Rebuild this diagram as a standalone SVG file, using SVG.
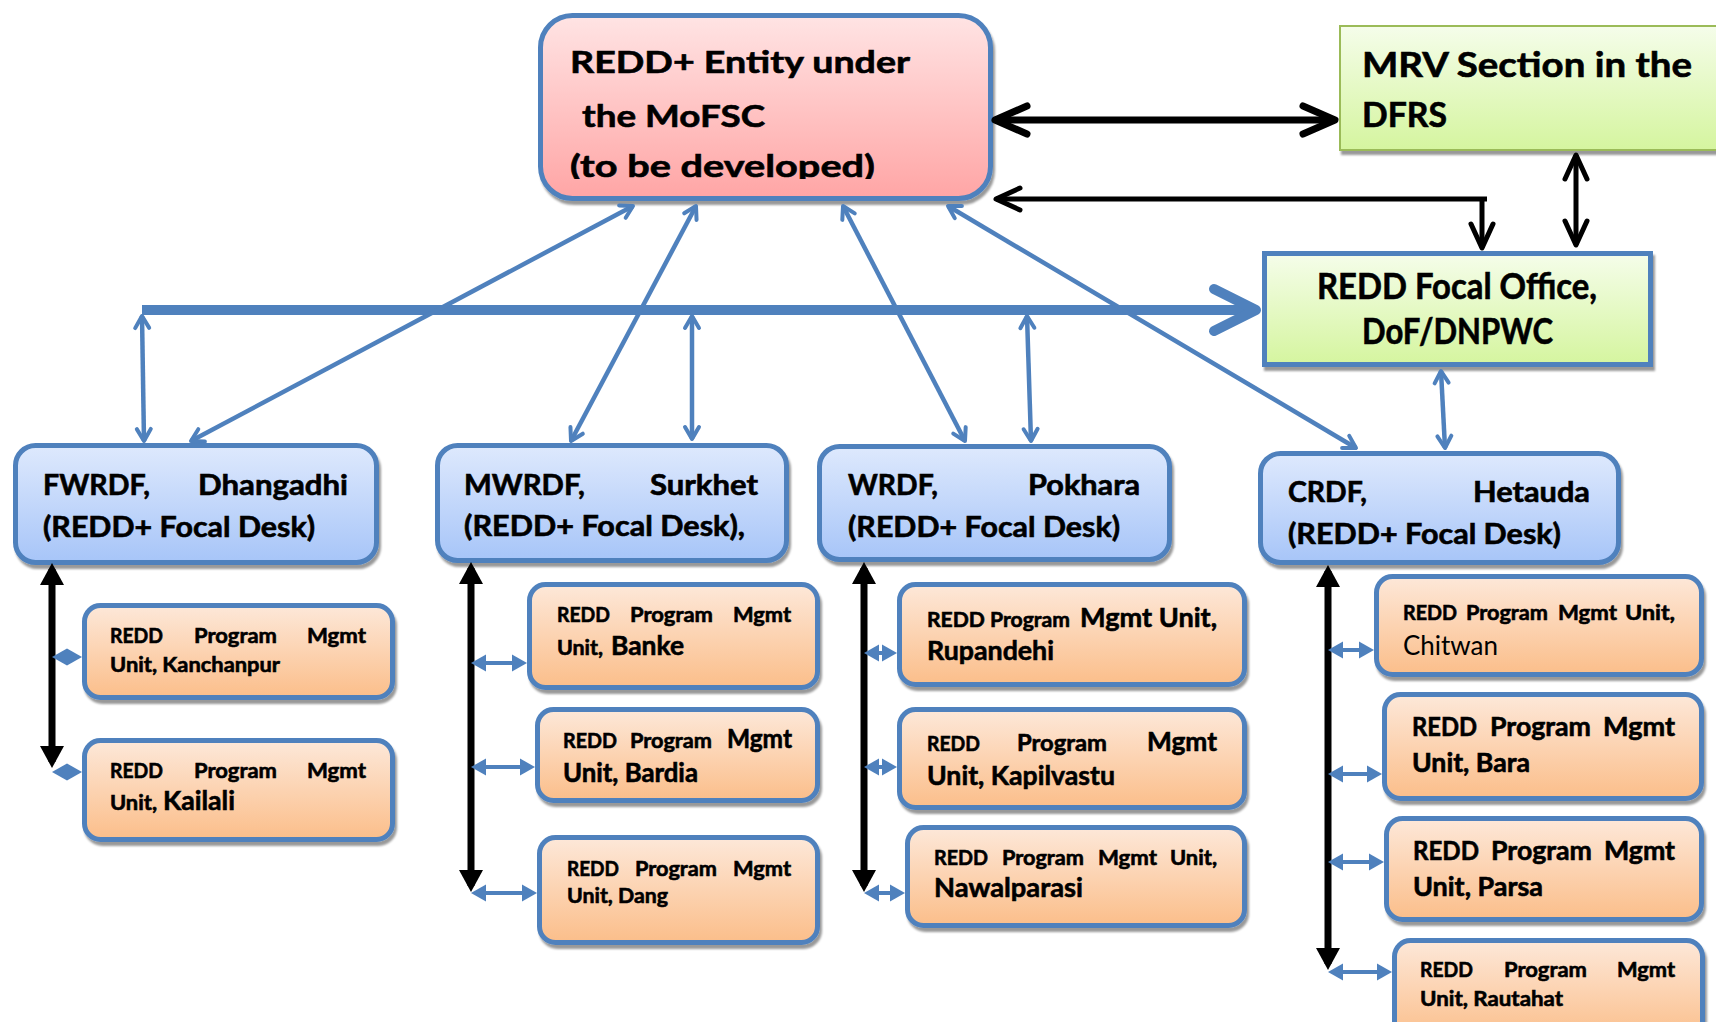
<svg xmlns="http://www.w3.org/2000/svg" width="1716" height="1022" viewBox="0 0 1716 1022">
<defs>
<style>
.t{font-family:Lato,"Open Sans","Liberation Sans",sans-serif;font-weight:700;fill:#000;stroke:#000;stroke-width:0.6px}
.s21{font-size:21px}.s26{font-size:26px}.s27{font-size:27px}.s23{font-size:23px}.s28{font-size:28px}
.box{stroke:#4f81bd;stroke-width:5}
.reg{fill:url(#gBlue)}.org{fill:url(#gOrg)}
.bt{fill:none;stroke:#4f81bd;stroke-width:4.5;marker-start:url(#bo);marker-end:url(#bo)}
.bs{fill:none;stroke:#4f81bd;stroke-width:4;marker-start:url(#bh);marker-end:url(#bh)}
.kv{fill:none;stroke:#000;stroke-width:7;marker-start:url(#kf);marker-end:url(#kf)}
</style>
<linearGradient id="gPink" x1="0" y1="0" x2="0" y2="1"><stop offset="0" stop-color="#ffe4e4"/><stop offset="1" stop-color="#ffa5a5"/></linearGradient>
<linearGradient id="gBlue" x1="0" y1="0" x2="0" y2="1"><stop offset="0" stop-color="#dee9fd"/><stop offset="1" stop-color="#a7c5f8"/></linearGradient>
<linearGradient id="gOrg" x1="0" y1="0" x2="0" y2="1"><stop offset="0" stop-color="#fde8d9"/><stop offset="1" stop-color="#fbbe8a"/></linearGradient>
<linearGradient id="gGrn" x1="0" y1="0" x2="0" y2="1"><stop offset="0" stop-color="#f5fdea"/><stop offset="1" stop-color="#d5f59f"/></linearGradient>
<filter id="sh" x="-5%" y="-5%" width="115%" height="120%"><feDropShadow dx="2" dy="4" stdDeviation="1.2" flood-color="#000" flood-opacity="0.4"/></filter>
<clipPath id="cpE"><rect x="540" y="15" width="450" height="164"/></clipPath>
<marker id="bo" markerUnits="userSpaceOnUse" markerWidth="30" markerHeight="30" orient="auto-start-reverse" overflow="visible"><path d="M-12,-7 L0,0 L-12,7" fill="none" stroke="#4f81bd" stroke-width="4" stroke-linecap="round" stroke-linejoin="round"/></marker>
<marker id="bh" markerUnits="userSpaceOnUse" markerWidth="30" markerHeight="30" orient="auto-start-reverse" overflow="visible"><path d="M8,0 L-7,-8.5 L-7,8.5 Z" fill="#4f81bd"/></marker>
<marker id="kf" markerUnits="userSpaceOnUse" markerWidth="40" markerHeight="40" orient="auto-start-reverse" overflow="visible"><path d="M6,0 L-16,-12 L-16,12 Z" fill="#000"/></marker>
<marker id="kc" markerUnits="userSpaceOnUse" markerWidth="40" markerHeight="40" orient="auto-start-reverse" overflow="visible"><path d="M-24,-11 L0,0 L-24,11" fill="none" stroke="#000" stroke-width="5" stroke-linecap="round" stroke-linejoin="round"/></marker>
<marker id="kL" markerUnits="userSpaceOnUse" markerWidth="50" markerHeight="50" orient="auto-start-reverse" overflow="visible"><path d="M-32,-14 L0,0 L-32,14" fill="none" stroke="#000" stroke-width="7" stroke-linecap="round" stroke-linejoin="round"/></marker>
</defs>
<rect width="1716" height="1022" fill="#fff"/>

<g id="entity">
<rect x="540.5" y="15.5" width="450" height="183" rx="32" fill="url(#gPink)" class="box" filter="url(#sh)"/>
<g clip-path="url(#cpE)" class="t" style="font-size:31px">
<text x="570" y="73" textLength="340" lengthAdjust="spacingAndGlyphs">REDD+ Entity under</text>
<text x="582" y="127" textLength="183" lengthAdjust="spacingAndGlyphs">the MoFSC</text>
<text x="570" y="177" textLength="305" lengthAdjust="spacingAndGlyphs">(to be developed)</text>
</g>
</g>

<g id="mrv">
<rect x="1340" y="26" width="390" height="124" fill="url(#gGrn)" stroke="#9bbb59" stroke-width="2" filter="url(#sh)"/>
<text class="t" style="font-size:34px" x="1362" y="77" textLength="330" lengthAdjust="spacingAndGlyphs">MRV Section in the</text>
<text class="t" style="font-size:34px" x="1362" y="127" textLength="85" lengthAdjust="spacingAndGlyphs">DFRS</text>
</g>

<g id="focal">
<rect x="1264.5" y="253.5" width="386" height="111" fill="url(#gGrn)" class="box" filter="url(#sh)"/>
<text class="t" style="font-size:36px" x="1317" y="299" textLength="280" lengthAdjust="spacingAndGlyphs">REDD Focal Office,</text>
<text class="t" style="font-size:36px" x="1362" y="344" textLength="191" lengthAdjust="spacingAndGlyphs">DoF/DNPWC</text>
</g>

<g id="fwrdf">
<rect x="15.5" y="445.5" width="361" height="117" rx="20" class="box reg" filter="url(#sh)"/>
<text class="t s28" x="43" y="495" textLength="107" lengthAdjust="spacingAndGlyphs">FWRDF,</text>
<text class="t s28" x="198" y="495" textLength="150" lengthAdjust="spacingAndGlyphs">Dhangadhi</text>
<text class="t s28" x="43" y="537" textLength="272" lengthAdjust="spacingAndGlyphs">(REDD+ Focal Desk)</text>
</g>
<g id="mwrdf">
<rect x="437.5" y="445.5" width="349" height="115" rx="20" class="box reg" filter="url(#sh)"/>
<text class="t s28" x="464" y="495" textLength="121" lengthAdjust="spacingAndGlyphs">MWRDF,</text>
<text class="t s28" x="650" y="495" textLength="108" lengthAdjust="spacingAndGlyphs">Surkhet</text>
<text class="t s28" x="464" y="536" textLength="281" lengthAdjust="spacingAndGlyphs">(REDD+ Focal Desk),</text>
</g>
<g id="wrdf">
<rect x="819.5" y="446.5" width="350" height="113" rx="20" class="box reg" filter="url(#sh)"/>
<text class="t s28" x="848" y="495" textLength="90" lengthAdjust="spacingAndGlyphs">WRDF,</text>
<text class="t s28" x="1028" y="495" textLength="112" lengthAdjust="spacingAndGlyphs">Pokhara</text>
<text class="t s28" x="848" y="537" textLength="272" lengthAdjust="spacingAndGlyphs">(REDD+ Focal Desk)</text>
</g>
<g id="crdf">
<rect x="1260.5" y="453.5" width="358" height="109" rx="20" class="box reg" filter="url(#sh)"/>
<text class="t s28" x="1288" y="502" textLength="79" lengthAdjust="spacingAndGlyphs">CRDF,</text>
<text class="t s28" x="1473" y="502" textLength="117" lengthAdjust="spacingAndGlyphs">Hetauda</text>
<text class="t s28" x="1288" y="544" textLength="273" lengthAdjust="spacingAndGlyphs">(REDD+ Focal Desk)</text>
</g>

<g id="kanchanpur">
<rect x="84.5" y="605.5" width="308" height="92" rx="16" class="box org" filter="url(#sh)"/>
<text class="t s21" x="110" y="643" textLength="53" lengthAdjust="spacingAndGlyphs">REDD</text>
<text class="t s21" x="194" y="643" textLength="83" lengthAdjust="spacingAndGlyphs">Program</text>
<text class="t s21" x="307" y="643" textLength="59" lengthAdjust="spacingAndGlyphs">Mgmt</text>
<text class="t s21" x="110" y="672" textLength="170" lengthAdjust="spacingAndGlyphs">Unit, Kanchanpur</text>
</g>
<g id="kailali">
<rect x="84.5" y="740.5" width="308" height="99" rx="16" class="box org" filter="url(#sh)"/>
<text class="t s21" x="110" y="778" textLength="53" lengthAdjust="spacingAndGlyphs">REDD</text>
<text class="t s21" x="194" y="778" textLength="83" lengthAdjust="spacingAndGlyphs">Program</text>
<text class="t s21" x="307" y="778" textLength="59" lengthAdjust="spacingAndGlyphs">Mgmt</text>
<text class="t s21" x="110" y="810" textLength="47" lengthAdjust="spacingAndGlyphs">Unit,</text>
<text class="t s27" x="163" y="810" textLength="72" lengthAdjust="spacingAndGlyphs">Kailali</text>
</g>

<g id="banke">
<rect x="529.5" y="584.5" width="288" height="103" rx="16" class="box org" filter="url(#sh)"/>
<text class="t s21" x="557" y="622" textLength="53" lengthAdjust="spacingAndGlyphs">REDD</text>
<text class="t s21" x="630" y="622" textLength="83" lengthAdjust="spacingAndGlyphs">Program</text>
<text class="t s21" x="733" y="622" textLength="58" lengthAdjust="spacingAndGlyphs">Mgmt</text>
<text class="t s21" x="557" y="655" textLength="46" lengthAdjust="spacingAndGlyphs">Unit,</text>
<text class="t s27" x="611" y="655" textLength="73" lengthAdjust="spacingAndGlyphs">Banke</text>
</g>
<g id="bardia">
<rect x="537.5" y="709.5" width="280" height="91" rx="16" class="box org" filter="url(#sh)"/>
<text class="t s21" x="563" y="748" textLength="54" lengthAdjust="spacingAndGlyphs">REDD</text>
<text class="t s21" x="630" y="748" textLength="82" lengthAdjust="spacingAndGlyphs">Program</text>
<text class="t s26" x="727" y="748" textLength="65" lengthAdjust="spacingAndGlyphs">Mgmt</text>
<text class="t s26" x="563" y="782" textLength="135" lengthAdjust="spacingAndGlyphs">Unit, Bardia</text>
</g>
<g id="dang">
<rect x="539.5" y="837.5" width="278" height="105" rx="16" class="box org" filter="url(#sh)"/>
<text class="t s21" x="567" y="876" textLength="52" lengthAdjust="spacingAndGlyphs">REDD</text>
<text class="t s21" x="635" y="876" textLength="82" lengthAdjust="spacingAndGlyphs">Program</text>
<text class="t s21" x="733" y="876" textLength="58" lengthAdjust="spacingAndGlyphs">Mgmt</text>
<text class="t s21" x="567" y="903" textLength="101" lengthAdjust="spacingAndGlyphs">Unit, Dang</text>
</g>

<g id="rupandehi">
<rect x="899.5" y="584.5" width="345" height="100" rx="16" class="box org" filter="url(#sh)"/>
<text class="t s21" x="927" y="627" textLength="143" lengthAdjust="spacingAndGlyphs">REDD Program</text>
<text class="t s27" x="1080" y="627" textLength="137" lengthAdjust="spacingAndGlyphs">Mgmt Unit,</text>
<text class="t s27" x="927" y="660" textLength="127" lengthAdjust="spacingAndGlyphs">Rupandehi</text>
</g>
<g id="kapilvastu">
<rect x="899.5" y="709.5" width="345" height="98" rx="16" class="box org" filter="url(#sh)"/>
<text class="t s21" x="927" y="751" textLength="53" lengthAdjust="spacingAndGlyphs">REDD</text>
<text class="t s23" x="1017" y="751" textLength="90" lengthAdjust="spacingAndGlyphs">Program</text>
<text class="t s27" x="1147" y="751" textLength="70" lengthAdjust="spacingAndGlyphs">Mgmt</text>
<text class="t s27" x="927" y="785" textLength="188" lengthAdjust="spacingAndGlyphs">Unit, Kapilvastu</text>
</g>
<g id="nawalparasi">
<rect x="907.5" y="827.5" width="337" height="98" rx="16" class="box org" filter="url(#sh)"/>
<text class="t s21" x="934" y="865" textLength="54" lengthAdjust="spacingAndGlyphs">REDD</text>
<text class="t s21" x="1002" y="865" textLength="82" lengthAdjust="spacingAndGlyphs">Program</text>
<text class="t s21" x="1098" y="865" textLength="59" lengthAdjust="spacingAndGlyphs">Mgmt</text>
<text class="t s21" x="1170" y="865" textLength="47" lengthAdjust="spacingAndGlyphs">Unit,</text>
<text class="t s27" x="934" y="897" textLength="149" lengthAdjust="spacingAndGlyphs">Nawalparasi</text>
</g>

<g id="chitwan">
<rect x="1376.5" y="576.5" width="325" height="98" rx="16" class="box org" filter="url(#sh)"/>
<text class="t s21" x="1403" y="620" textLength="54" lengthAdjust="spacingAndGlyphs">REDD</text>
<text class="t s21" x="1466" y="620" textLength="82" lengthAdjust="spacingAndGlyphs">Program</text>
<text class="t s21" x="1558" y="620" textLength="59" lengthAdjust="spacingAndGlyphs">Mgmt</text>
<text class="t s21" x="1625" y="620" textLength="50" lengthAdjust="spacingAndGlyphs">Unit,</text>
<text class="t s26" style="font-weight:400;stroke:none" x="1403" y="655" textLength="95" lengthAdjust="spacingAndGlyphs">Chitwan</text>
</g>
<g id="bara">
<rect x="1384.5" y="694.5" width="317" height="104" rx="16" class="box org" filter="url(#sh)"/>
<text class="t s26" x="1412" y="736" textLength="65" lengthAdjust="spacingAndGlyphs">REDD</text>
<text class="t s26" x="1490" y="736" textLength="101" lengthAdjust="spacingAndGlyphs">Program</text>
<text class="t s26" x="1603" y="736" textLength="72" lengthAdjust="spacingAndGlyphs">Mgmt</text>
<text class="t s26" x="1412" y="772" textLength="118" lengthAdjust="spacingAndGlyphs">Unit, Bara</text>
</g>
<g id="parsa">
<rect x="1386.5" y="818.5" width="315" height="101" rx="16" class="box org" filter="url(#sh)"/>
<text class="t s26" x="1413" y="860" textLength="66" lengthAdjust="spacingAndGlyphs">REDD</text>
<text class="t s26" x="1491" y="860" textLength="101" lengthAdjust="spacingAndGlyphs">Program</text>
<text class="t s26" x="1604" y="860" textLength="71" lengthAdjust="spacingAndGlyphs">Mgmt</text>
<text class="t s26" x="1413" y="896" textLength="130" lengthAdjust="spacingAndGlyphs">Unit, Parsa</text>
</g>
<g id="rautahat">
<rect x="1394.5" y="940.5" width="308" height="100" rx="16" class="box org" filter="url(#sh)"/>
<text class="t s21" x="1420" y="977" textLength="53" lengthAdjust="spacingAndGlyphs">REDD</text>
<text class="t s21" x="1504" y="977" textLength="83" lengthAdjust="spacingAndGlyphs">Program</text>
<text class="t s21" x="1617" y="977" textLength="58" lengthAdjust="spacingAndGlyphs">Mgmt</text>
<text class="t s21" x="1420" y="1006" textLength="143" lengthAdjust="spacingAndGlyphs">Unit, Rautahat</text>
</g>

<g id="connectors">
<line x1="995" y1="120" x2="1335" y2="120" stroke="#000" stroke-width="7" marker-start="url(#kL)" marker-end="url(#kL)"/>
<polyline points="996,199 1487,199" fill="none" stroke="#000" stroke-width="5" marker-start="url(#kc)"/>
<line x1="1482" y1="197" x2="1482" y2="248" stroke="#000" stroke-width="5" marker-end="url(#kc)"/>
<line x1="1576" y1="155" x2="1576" y2="245" stroke="#000" stroke-width="5" marker-start="url(#kc)" marker-end="url(#kc)"/>
<line x1="142" y1="310" x2="1250" y2="310" stroke="#4f81bd" stroke-width="10"/>
<path d="M1214,289 L1256,310 L1214,331" fill="none" stroke="#4f81bd" stroke-width="10" stroke-linecap="round" stroke-linejoin="round"/>
<line class="bt" x1="633" y1="206" x2="191" y2="441"/>
<line class="bt" x1="696" y1="206" x2="571" y2="441"/>
<line class="bt" x1="843" y1="206" x2="965" y2="441"/>
<line class="bt" x1="948" y1="206" x2="1356" y2="448"/>
<line class="bt" x1="142" y1="316" x2="144" y2="441"/>
<line class="bt" x1="692" y1="316" x2="692" y2="439"/>
<line class="bt" x1="1027" y1="316" x2="1031" y2="441"/>
<line class="bt" x1="1441" y1="371" x2="1445" y2="448"/>
<line class="kv" x1="52" y1="569" x2="52" y2="762"/>
<line class="kv" x1="471" y1="568" x2="471" y2="886"/>
<line class="kv" x1="864" y1="568" x2="864" y2="886"/>
<line class="kv" x1="1328" y1="571" x2="1328" y2="964"/>
<line class="bs" x1="60" y1="657" x2="74" y2="657"/>
<line class="bs" x1="60" y1="772" x2="74" y2="772"/>
<line class="bs" x1="479" y1="663" x2="519" y2="663"/>
<line class="bs" x1="479" y1="767" x2="527" y2="767"/>
<line class="bs" x1="479" y1="893" x2="529" y2="893"/>
<line class="bs" x1="872" y1="653" x2="889" y2="653"/>
<line class="bs" x1="872" y1="767" x2="889" y2="767"/>
<line class="bs" x1="872" y1="893" x2="897" y2="893"/>
<line class="bs" x1="1336" y1="650" x2="1366" y2="650"/>
<line class="bs" x1="1336" y1="774" x2="1374" y2="774"/>
<line class="bs" x1="1336" y1="862" x2="1376" y2="862"/>
<line class="bs" x1="1336" y1="972" x2="1384" y2="972"/>
</g>
</svg>
